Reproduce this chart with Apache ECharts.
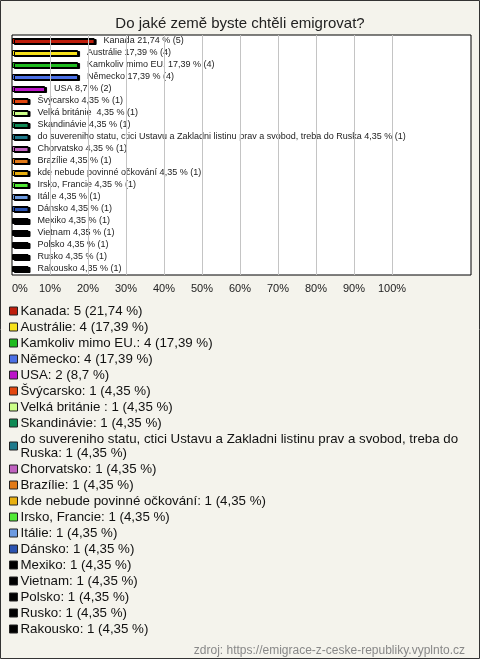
<!DOCTYPE html>
<html><head><meta charset="utf-8">
<script src="https://cdn.jsdelivr.net/npm/echarts@6/dist/echarts.min.js"></script>
<style>html,body{margin:0;padding:0;background:#f4f3ec}#c{width:480px;height:659px}</style>
</head><body><div id="c"></div>
<script>
const categories = ['Kanada','Austrálie','Kamkoliv mimo EU.','Německo','USA','Švýcarsko','Velká británie ','Skandinávie','do suvereniho statu, ctici Ustavu a Zakladni listinu prav a svobod, treba do Ruska','Chorvatsko','Brazílie','kde nebude povinné očkování','Irsko, Francie','Itálie','Dánsko','Mexiko','Vietnam','Polsko','Rusko','Rakousko'];
const counts = [5,4,4,4,2,1,1,1,1,1,1,1,1,1,1,1,1,1,1,1];
const percents = [21.74,17.39,17.39,17.39,8.7,4.35,4.35,4.35,4.35,4.35,4.35,4.35,4.35,4.35,4.35,4.35,4.35,4.35,4.35,4.35];
const tickValues = [10,20,30,40,50,60,70,80,90,100];
const colors = ['#be1e0c','#f8e21a','#1fbb1f','#4b70e6','#bb14c8','#e2460f','#ccff88','#0f8a55','#1f7a8c','#c062c0','#e27a18','#e8b010','#52ea35','#6c9ae0','#2a52b0','#000','#000','#000','#000','#000'];

const fmtPct = v => String(v).replace('.', ',');
const FONT = 'Liberation Sans, Arial, sans-serif';

const series = categories.map((name, i) => ({
  name: name,
  type: 'bar',
  stack: 'all',
  barWidth: 6,
  data: categories.map((c, j) => j === i ? percents[i] : '-'),
  itemStyle: {
    color: colors[i], borderColor: '#000', borderWidth: 1,
    shadowColor: '#000', shadowBlur: 0, shadowOffsetX: 2, shadowOffsetY: 1
  },
  label: {
    show: true, position: 'right', distance: 9,
    fontSize: 9, fontFamily: FONT, color: '#222',
    formatter: () => name + ' ' + fmtPct(percents[i]) + ' % (' + counts[i] + ')'
  },
  emphasis: { disabled: true },
  silent: true
}));
series[0].markLine = {
  silent: true, symbol: 'none', animation: false,
  label: { show: false },
  lineStyle: { color: '#c4c4c4', width: 1, type: 'solid' },
  data: tickValues.map(v => ({ xAxis: v }))
};

const chart = echarts.init(document.getElementById('c'), null, { renderer: 'canvas' });
chart.setOption({
  backgroundColor: '#f4f3ec',
  animation: false,
  title: [
    { text: 'Do jaké země byste chtěli emigrovat?', left: 'center', top: 11,
      textStyle: { fontSize: 15, fontWeight: 'normal', color: '#222', fontFamily: FONT } },
    { text: 'zdroj: https://emigrace-z-ceske-republiky.vyplnto.cz', right: 10, top: 640,
      textStyle: { fontSize: 12, fontWeight: 'normal', color: '#888', fontFamily: FONT } }
  ],
  grid: { left: 12, top: 35, width: 459, height: 240, show: true,
    backgroundColor: '#fff', borderColor: '#000', borderWidth: 1 },
  xAxis: {
    type: 'value', min: 0, max: 120.8, interval: 10,
    splitLine: { show: false }, axisLine: { show: false }, axisTick: { show: false },
    axisLabel: { margin: 8, fontSize: 11, color: '#222', fontFamily: FONT, alignMinLabel: 'left',
      formatter: v => v <= 100 ? v + '%' : '' }
  },
  yAxis: {
    type: 'category', data: categories, inverse: true,
    axisLine: { show: false }, axisTick: { show: false }, axisLabel: { show: false }
  },
  legend: {
    orient: 'vertical', left: 9, top: 304, padding: 0,
    itemWidth: 8, itemHeight: 8, itemGap: 2, icon: 'rect', selectedMode: false,
    itemStyle: { borderColor: '#222', borderWidth: 1, shadowBlur: 0, shadowOffsetX: 0, shadowOffsetY: 0, shadowColor: 'rgba(0,0,0,0)' },
    textStyle: { fontSize: 13.3, lineHeight: 14, color: '#111', fontFamily: FONT, width: 448, overflow: 'break', padding: [0,0,0,-2] },
    formatter: name => {
      const i = categories.indexOf(name);
      return name + ': ' + counts[i] + ' (' + fmtPct(percents[i]) + ' %)';
    },
    data: categories
  },
  graphic: [{ type: 'rect', shape: { x: 0.5, y: 0.5, width: 479, height: 658 },
    style: { fill: 'none', stroke: '#333', lineWidth: 1 }, silent: true, z: 100 }],
  series: series
});
</script></body></html>
